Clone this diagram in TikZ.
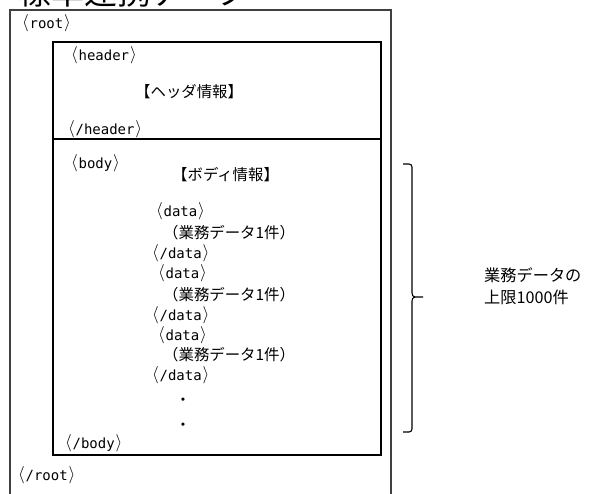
\documentclass[tikz,border=0pt]{standalone}
\usepackage{fontspec}
\setmainfont{Noto Sans CJK JP}
\newfontfamily\jp{Noto Sans CJK JP}
\newfontfamily\mono{DejaVu Sans Mono}
\newcommand\xlt{\makebox[0.6em]{\raisebox{0.2ex}{\fontsize{17}{17}\selectfont$\langle$}}}
\newcommand\xgt{\makebox[0.6em]{\raisebox{0.2ex}{\fontsize{17}{17}\selectfont$\rangle$}}}
\newcommand\xtag[1]{{\mono\xlt#1\xgt}}
\tikzset{
  tagtext/.style={anchor=west, inner sep=0pt, font=\mono\fontsize{14}{16}\selectfont},
  jptext/.style={anchor=west, inner sep=0pt, font=\jp\fontsize{15.4}{18}\selectfont},
  outerline/.style={draw=black!75, line width=1.8pt},
  innerbox/.style={draw=black, line width=1.3pt},
  bracket/.style={draw=black, line width=1.1pt},
}
\begin{document}
\begin{tikzpicture}[x=1pt,y=-1pt]
\useasboundingbox (0,0) rectangle (589,493);
% title (cut off at top, as in the reference)
\node[anchor=base west, inner sep=0pt, font=\jp\fontsize{33}{36}\selectfont] (title) at (18,4) {標準連携データ};
% outer root box (open at bottom)
\draw[outerline] (10,500) -- (10,10) -- (391,10) -- (391,500);
% inner box with divider
\draw[innerbox] (53,42) rectangle (381,455);
\draw[innerbox] (53,139) -- (381,139);
% texts
\node[tagtext] (root) at (21,23) {\xtag{root}};
\node[tagtext] (header) at (70,55) {\xtag{header}};
\node[jptext] (hinfo) at (135,92) {【ヘッダ情報】};
\node[tagtext] (eheader) at (67,129) {\xtag{/header}};
\node[tagtext] (body) at (70,163) {\xtag{body}};
\node[jptext] (binfo) at (172,175) {【ボディ情報】};
\node[tagtext] (d1) at (155,211) {\xtag{data}};
\node[jptext] (c1) at (163,233) {（業務データ1件）};
\node[tagtext] (e1) at (151,253) {\xtag{/data}};
\node[tagtext] (d2) at (157,273) {\xtag{data}};
\node[jptext] (c2) at (163,295) {（業務データ1件）};
\node[tagtext] (e2) at (151,315) {\xtag{/data}};
\node[tagtext] (d3) at (157,335) {\xtag{data}};
\node[jptext] (c3) at (163,355) {（業務データ1件）};
\node[tagtext] (e3) at (151,375) {\xtag{/data}};
\node[jptext, anchor=center] (dot1) at (183,402) {・};
\node[jptext, anchor=center] (dot2) at (183,427) {・};
\node[tagtext] (ebody) at (64,443) {\xtag{/body}};
\node[tagtext] (eroot) at (17,475) {\xtag{/root}};
% brace
\draw[bracket] (403,164) -- (409,164) to[out=0,in=90] (412,167) -- (412,293)
  to[out=-90,in=180] (415,297) -- (423,297);
\draw[bracket] (415,297) to[out=180,in=90] (412,301) -- (412,429)
  to[out=-90,in=0] (409,432) -- (403,432);
\node[anchor=west, inner sep=0pt, align=left, font=\jp\fontsize{16.2}{22}\selectfont] (limit) at (484,286) {業務データの\\上限1000件};
\end{tikzpicture}
\end{document}
